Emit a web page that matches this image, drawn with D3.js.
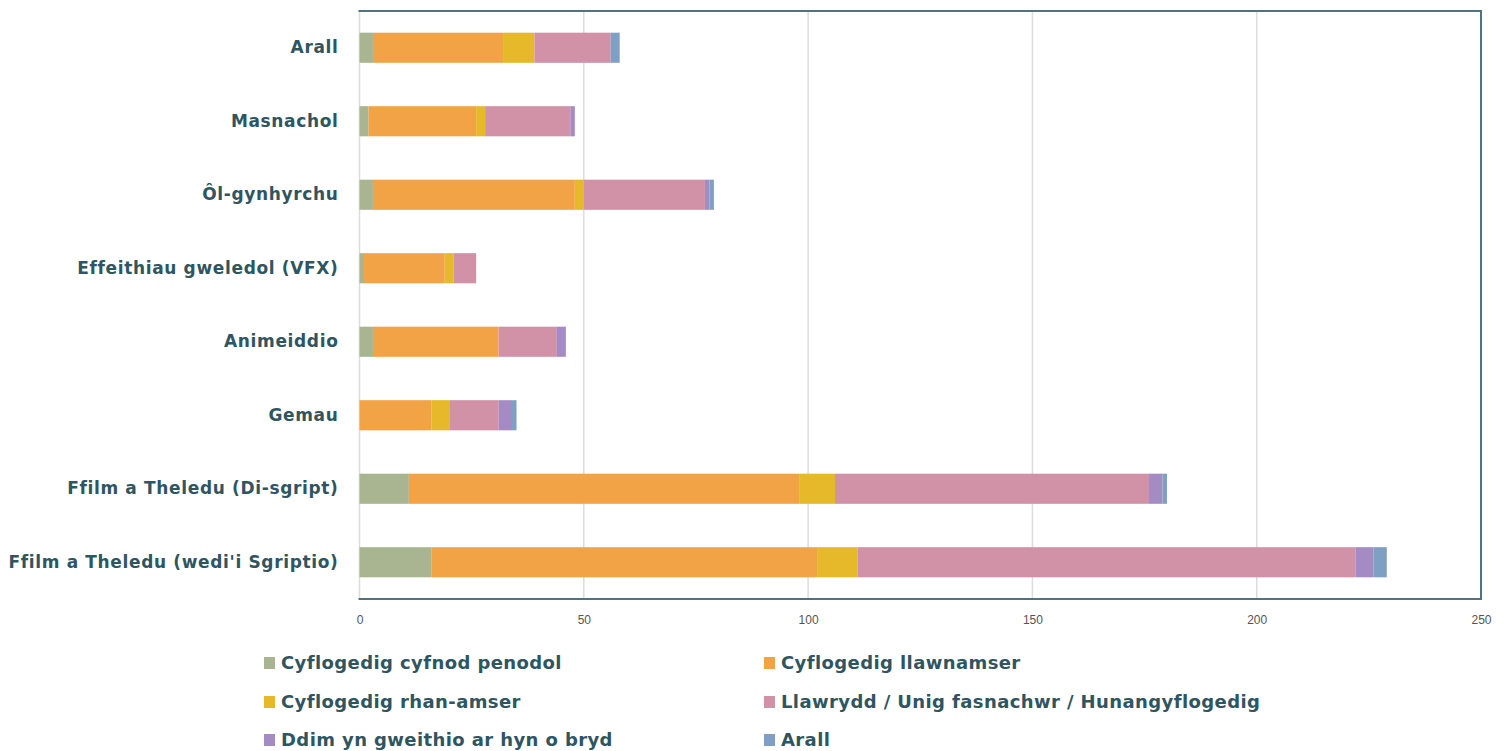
<!DOCTYPE html>
<html>
<head>
<meta charset="utf-8">
<script src="https://cdn.jsdelivr.net/npm/d3@7"></script>
<style>
  html, body { margin: 0; padding: 0; background: #fff; }
  svg { display: block; }
</style>
</head>
<body>
<svg id="chart" width="1512" height="751"></svg>
<script>
// Sectors, drawn top to bottom
const categories = [
  "Arall",
  "Masnachol",
  "Ôl-gynhyrchu",
  "Effeithiau gweledol (VFX)",
  "Animeiddio",
  "Gemau",
  "Ffilm a Theledu (Di-sgript)",
  "Ffilm a Theledu (wedi'i Sgriptio)"
];

// Employment status series
const seriesNames = [
  "Cyflogedig cyfnod penodol",
  "Cyflogedig llawnamser",
  "Cyflogedig rhan-amser",
  "Llawrydd / Unig fasnachwr / Hunangyflogedig",
  "Ddim yn gweithio ar hyn o bryd",
  "Arall"
];

// Counts per sector, same order as categories
const fixedTerm   = [3, 2, 3, 1, 3, 0, 11, 16];
const fullTime    = [29, 24, 45, 18, 28, 16, 87, 86];
const partTime    = [7, 2, 2, 2, 0, 4, 8, 9];
const freelance   = [17, 19, 27, 5, 13, 11, 70, 111];
const notWorking  = [0, 1, 1, 0, 2, 3, 3, 4];
const otherStatus = [2, 0, 1, 0, 0, 1, 1, 3];

const xTicks = [0, 50, 100, 150, 200, 250];

const colors = ["#a8b590", "#f2a346", "#e5b92a", "#d191a6", "#a48bc4", "#7f9fc4"];
const textColor = "#2f5561";
const labelFont = "'DejaVu Sans', 'Liberation Sans', sans-serif";

const seriesValues = [fixedTerm, fullTime, partTime, freelance, notWorking, otherStatus];
const rows = categories.map((c, i) => {
  const r = { category: c };
  seriesNames.forEach((s, j) => { r[s] = seriesValues[j][i]; });
  return r;
});

const svg = d3.select("#chart");
const margin = { left: 359.5, right: 31, top: 11, bottom: 152 };
const W = 1512, H = 751;

const x = d3.scaleLinear().domain([0, 250]).range([margin.left, W - margin.right]);
const y = d3.scaleBand().domain(categories).range([margin.top, H - margin.bottom]).paddingInner(0.59).paddingOuter(0.295);

// gridlines
svg.append("g")
  .selectAll("line")
  .data(xTicks.slice(0, -1))
  .join("line")
  .attr("x1", d => x(d)).attr("x2", d => x(d))
  .attr("y1", margin.top).attr("y2", H - margin.bottom)
  .attr("stroke", "#dcdcdc").attr("stroke-width", 1.5);

// stacked bars
const stack = d3.stack().keys(seriesNames)(rows);
svg.append("g")
  .selectAll("g")
  .data(stack)
  .join("g")
  .attr("fill", (d, i) => colors[i])
  .selectAll("rect")
  .data(d => d)
  .join("rect")
  .attr("x", d => x(d[0]))
  .attr("width", d => x(d[1]) - x(d[0]))
  .attr("y", d => y(d.data.category))
  .attr("height", y.bandwidth());

// frame: top, right, bottom
const frame = d3.path();
frame.moveTo(margin.left - 1, margin.top);
frame.lineTo(x(250), margin.top);
frame.lineTo(x(250), H - margin.bottom);
frame.lineTo(margin.left - 1, H - margin.bottom);
svg.append("path").attr("d", frame.toString())
  .attr("fill", "none").attr("stroke", "#4f7380").attr("stroke-width", 2);

// x axis labels
const xAxis = d3.axisBottom(x).tickValues(xTicks).tickSize(0).tickPadding(16);
const gx = svg.append("g").attr("transform", `translate(0,${H - margin.bottom})`).call(xAxis);
gx.select(".domain").remove();
gx.selectAll("text")
  .attr("font-family", "'Liberation Sans Narrow', 'Liberation Sans', sans-serif")
  .attr("font-size", 12).attr("fill", "#555");

// category labels
const yAxis = d3.axisLeft(y).tickSize(0).tickPadding(21);
const gy = svg.append("g").attr("transform", `translate(${margin.left},0)`).call(yAxis);
gy.select(".domain").remove();
gy.selectAll("text")
  .attr("font-family", labelFont)
  .attr("font-weight", "bold")
  .attr("font-size", 17)
  .attr("letter-spacing", "0.65px")
  .attr("fill", textColor);

// legend, two columns
const legend = svg.append("g");
const legendCols = [268, 768];
const legendRows = [663, 702, 740];
const items = legend.selectAll("g")
  .data(seriesNames)
  .join("g")
  .attr("transform", (d, i) => `translate(${legendCols[i % 2]},${legendRows[Math.floor(i / 2)]})`);
items.append("rect")
  .attr("x", -4).attr("y", -6).attr("width", 11).attr("height", 12)
  .attr("fill", (d, i) => colors[i]);
items.append("text")
  .attr("x", 13).attr("dy", "0.35em")
  .attr("font-family", labelFont)
  .attr("font-weight", "bold")
  .attr("font-size", 18)
  .attr("letter-spacing", "0.4px")
  .attr("fill", textColor)
  .text(d => d);
</script>
</body>
</html>
